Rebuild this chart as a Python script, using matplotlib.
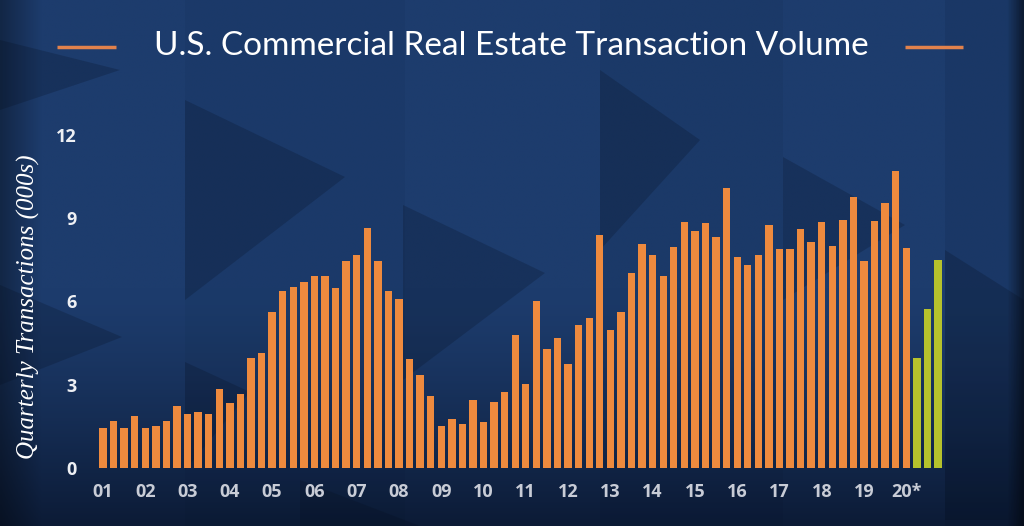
import numpy as np
import matplotlib
matplotlib.use("Agg")
from matplotlib import pyplot as plt
from matplotlib.patches import Polygon

# quarterly transactions (000s), 2001 Q1 .. 2020 Q1 actual, 2020 Q2..Q4 forecast
actual = [1.42, 1.68, 1.42, 1.86, 1.44, 1.50, 1.68, 2.24,
          1.92, 2.00, 1.92, 2.84, 2.33, 2.66, 3.94, 4.12,
          5.63, 6.38, 6.53, 6.71, 6.92, 6.92, 6.50, 7.47,
          7.69, 8.66, 7.45, 6.37, 6.09, 3.91, 3.33, 2.59,
          1.50, 1.74, 1.56, 2.44, 1.66, 2.37, 2.74, 4.80,
          3.01, 6.03, 4.28, 4.69, 3.75, 5.16, 5.40, 8.40,
          4.96, 5.60, 7.02, 8.07, 7.67, 6.90, 7.95, 8.88,
          8.53, 8.83, 8.32, 10.10, 7.59, 7.33, 7.68, 8.76,
          7.88, 7.88, 8.62, 8.13, 8.88, 8.01, 8.92, 9.77,
          7.47, 8.89, 9.54, 10.72, 7.94]
forecast = [3.97, 5.72, 7.51]
year_labels = ['01', '02', '03', '04', '05', '06', '07', '08', '09', '10',
               '11', '12', '13', '14', '15', '16', '17', '18', '19', '20*']
y_ticks = [0, 3, 6, 9, 12]

ORANGE = '#ee8a3e'
GREEN = '#b6c22c'
TITLE_LINE = '#e2824c'

fig = plt.figure(figsize=(10.24, 5.26), dpi=100)

# ---- background: navy gradient with dark triangles ----
bg = fig.add_axes([0, 0, 1, 1])
bg.set_xlim(0, 1024)
bg.set_ylim(526, 0)
bg.axis('off')
yy = np.linspace(0, 1, 200)[:, None]
xx = np.linspace(0, 1, 400)[None, :]
top = np.array([0x1d, 0x3c, 0x6d]) / 255
bottom = np.array([0x0c, 0x1b, 0x36]) / 255
t = np.clip((yy - 0.55) / 0.45, 0, 1) ** 1.3
edge = 1 - 0.35 * np.clip(1 - xx / 0.04, 0, 1) - 0.5 * np.clip((xx - 0.985) / 0.015, 0, 1)
grad = (top[None, None, :] * (1 - t[..., None]) + bottom[None, None, :] * t[..., None]) * edge[..., None]
bg.imshow(grad, extent=[0, 1024, 526, 0], aspect='auto', zorder=0)

# vertical panels slightly different shade
for x0, x1, a in [(185, 405, 0.04), (600, 783, 0.05), (945, 1024, 0.08)]:
    bg.add_patch(Polygon([(x0, 0), (x1, 0), (x1, 526), (x0, 526)],
                         closed=True, color='#000814', alpha=a, lw=0, zorder=1))

tris = [
    [(0, 285), (122, 337), (0, 385)],
    [(185, 100), (345, 177), (185, 300)],
    [(185, 362), (250, 392), (185, 470)],
    [(403, 205), (545, 273), (403, 380)],
    [(600, 70), (700, 140), (600, 250)],
    [(783, 157), (905, 225), (783, 300)],
    [(945, 250), (1024, 300), (1024, 520), (945, 520)],
    [(0, 40), (120, 70), (0, 110)],
    [(300, 480), (420, 526), (300, 526)],
]
for tri in tris:
    bg.add_patch(Polygon(tri, closed=True, color='#050d1c', alpha=0.22, lw=0, zorder=2))

# ---- bars ----
ax = fig.add_axes([88 / 1024, 1 - 467.7 / 526, (955 - 88) / 1024, (467.7 - 110) / 526])
ax.patch.set_alpha(0)
values = actual + forecast
colors = [ORANGE] * len(actual) + [GREEN] * len(forecast)
x = np.arange(len(values))
ax.bar(x, values, width=0.7, color=colors, zorder=3)
ax.set_xlim((88 - 103) / 10.57, (955 - 103) / 10.57)
ax.set_ylim(0, (467.7 - 110) / 27.72)

ax.set_yticks(y_ticks)
ax.set_yticklabels([str(v) for v in y_ticks])
ax.set_xticks(np.arange(0, len(values), 4))
ax.set_xticklabels(year_labels)
ax.tick_params(axis='y', length=0, pad=8, labelcolor='#eef0f4')
ax.tick_params(axis='x', length=0, pad=11, labelcolor='#c8ccd6')
for lab in ax.get_yticklabels() + ax.get_xticklabels():
    lab.set_fontfamily('Open Sans')
    lab.set_fontweight('bold')
    lab.set_fontsize(13)
for s in ax.spines.values():
    s.set_visible(False)

fig.text(28 / 1024, 1 - 307 / 526, 'Quarterly Transactions (000s)', rotation=90,
         ha='center', va='center', color='white', fontsize=18,
         family='Liberation Serif', style='italic')

# ---- title with side rules ----
fig.text(511 / 1024, 1 - 46 / 526, 'U.S. Commercial Real Estate Transaction Volume',
         ha='center', va='center', color='white', fontsize=24, family='Lato')
bg.plot([57, 116], [47, 47], color=TITLE_LINE, lw=2.5, zorder=5, solid_capstyle='butt')
bg.plot([905, 963], [47, 47], color=TITLE_LINE, lw=2.5, zorder=5, solid_capstyle='butt')

fig.savefig('out.png', dpi=100)
